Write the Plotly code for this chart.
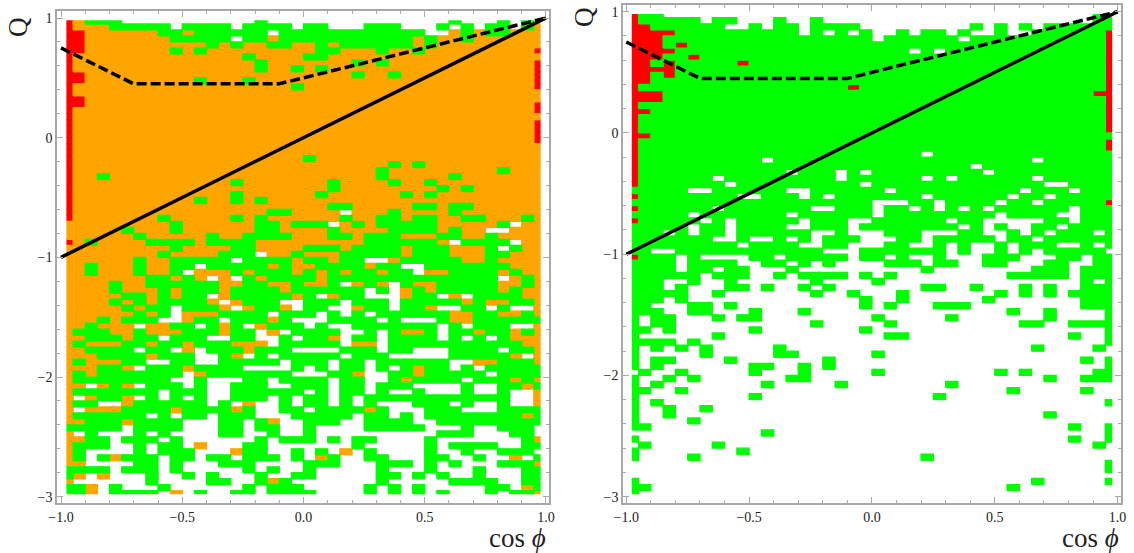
import numpy as np
import plotly.graph_objects as go

# Colour classes of each cell, row by row from the top: base class, then overrides as <class><first>-<last> column
LEFT_ROWS = [
"W R0 O1 G2-4 G16 G32 G36 G38",
"W R0 O1-3 G4-8 G10-13 G15-18 G20-21 G25-27 G31 G33 G35-36 G38 O39",
"O R0-1 G8-9 G11-16 W17 G18-29 W30-31 G33 G35-36",
"O R0-1 G9-13 W14 G15-16 G18-28 G30 G33",
"O R0-1 G12 G14 G17-18 G21 G23-28 G30",
"O R0-1 G9 G11 G21-22 G26 G29 R39",
"O R0 G15 G20-21",
"O R0 G16 G24 G26 R39",
"O R0 G16 G19 G21 R39",
"O R0-1 G24 G27 R39",
"O R0-1 G11 G15 R39",
"O R0 G19 R39",
"O R0",
"O R0-1",
"O R0-1 R39",
"O R0 R39",
"O R0",
"O R0 R39",
"O R0 R39",
"O R0 R39",
"O R0 R39",
"O R0",
"O R0",
"O R0 G20",
"O R0 G27 G29",
"O R0 G26 G36",
"O R0 G3 G26 G32",
"O R0 G14 G22 G27 G30",
"O R0 G22 G31 G33",
"O R0 G14 G21 G28 G30",
"O R0 G11 G14 G16",
"O R0 G22-23 G29-30 G32-33",
"O R0 G17-18 W23 G27 G32",
"O R0 G8 G14 G16 G23 G26-27 G29-30 G33-34 G38",
"O G9 G16-17 G19-21 W22 G24 G26-30 G36 W37",
"O G5 G9 G16-17 G22 G27-30 G32 W35-36",
"O G6 G12 G15-18 G22-23 G25-27 G31-32 G35",
"O R0 G2 G7-10 G12-15 G25-30 W32 G33-36 W37",
"O G9 G14-15 G20-22 G24-27 G29-31 G35 W36 G37",
"O G8 G13-15 W16 G19 G23-27 G29-31 G35-36",
"O G6 G9-13 W14 G15-18 G20-21 G23-24 W25-26 G28-32 G35",
"O G2 G6 G9-10 W11 G12-16 G18 O20 G21-24 O25 G26-27 W28-29 G30-36",
"G O0-1 O3-5 O7-8 W10 O11-13 O15 O19 O21 O23 O26 W29 O30-31 O36 O38-39",
"G O0-6 O9 O11 W12 O13 W14 O16 O21 W36 O37 O39",
"G O0-3 O5-6 O13-14 O17-18 O20-21 W23 O24 O26 W27 O29-30 O36-37 O39",
"G O0-3 O5-7 O9 O13 O18 W25 W27 O28 O30 O36 O38-39",
"G O0-4 O7 O9 W12 O13 O19 W21 O22 W25-27 O28 W31 O32 W33 O38-39",
"G O0-3 O5 O7 O12 W13 O14 W18-19 W23 W27 O33 O35-36 O39",
"G O0-4 O6 W9 O13 W14 O15 O18 W19 W22-23 O24 W27 O30 W31-32 W35 W37-38 O39",
"G O0-5 O7 W9 O10-12 W17 W21 W23 W25 O32-33 O36-37 O39",
"G O0-2 O4 W8-9 O10 W13 O17 W19-21 W26 W28-30 O32-33",
"G O0-1 O3-5 W6 O7-8 W11 O13 W15 O16 W20 W22-23 W31 W33 W37-38 O39",
"G O0 O4-5 O7-9 O13 W16 O17 W18 W23-24 W26 O28-29 W31 O34 O37 O39",
"G O0-1 O5 W8 W12-13 W16-17 W19 O22 W23 W26 W31 W33 W35 O37-39",
"G O0 O2-4 O7 O10 O14-16 W17 W23 O24-25 W26 O38-39",
"G O0-1 W6 W9 O10 W11 O15 W19-22 W26 W29-31 W36 O39",
"G O0-2 O7 W11-12 O14 W15 W17 W23 W27-31 O37 W38 O39",
"G O0 O2-4 W7-8 W11-12 W18 W22 W25 W32-33 O34-35 O39",
"G O0-2 O5 W6 O10 W15-18 W20 W22 W25 W27 O29 W32 W34",
"G O0 O2 W10 O11 W19-21 O24 W25-26 O29 W35",
"G O0 W9-10 W12-14 W17 W22 W25-26 O28 W33 O37 O39",
"G O0-1 W2 O3 O5 W6 W10 W12-13 W17-18 W22 W25 W29-32 W34-35 O38",
"G O0 W8 W12-13 W20 W22 W25 W27-28 W30-32 W34-35 W37-38 O39",
"G O0 W1 O2 O5 W6 W8 W10 W12-13 W17 W19 W22 W24 W37-38 O39",
"G O0 W3-4 O5 W12 W14 O15 W16-17 W19 W22 W24 W26-28 W32 W34-35 W37-38 O39",
"G O0 W1 O2-4 O9 O14 W16-17 W20 O25 W27-29 W33-35",
"G O0 W7 W9 W12 W16-18 W24 W27 W29 O38",
"G O0-1 O5 W10-12 W15 O17 W18-19 W23-24 W29-30",
"G W5 W10-12 W15 W18-19 W21-24 W30-32 W34-35 W39",
"G O0 W1 W3-5 W7 W9-12 W15-16 W18-19 W21-30 W34-36 W39",
"G O0-1 W4 W8 W10-15 W17 W21 W23 W26-29 W31-37 O39",
"W O0 G1-3 G6 G8-9 O11 G15-16 G24 G30 G32-35 G38-39",
"W O0 G1 G6 G8-10 O14 G15-16 G19 G21 O23 G25 G30 G33 G36-38",
"W O0 G1 G3 O4 G5-7 G9-10 G12-13 G15-17 G19 O21 G22 G25-26 G30-31 G34 O37 G39",
"W O0-1 G6-7 G9 G13-15 G20-22 G26-28 G30 G32 G36-38 O39",
"W G0-3 G5-7 G9 G15 G17 G20 G26 G30 G34 G38-39",
"W G0 O1 O3 G7 G10 G12 G16 G19-20 G26-27 G29 G31 G34 G38-39",
"W O0 G7 G12-13 G16 O17 G18 G26 G32-35 G38-39",
"W G0-1 O2 G4 G8 G15 G17-19 G25 G27 G29 G35-36 O38 G39",
"W G0-1 O2 G4-7 O9 G11 G14-15 G17-20 G25 G27 G29 G31 G35 G37-38 O39",
]

RIGHT_ROWS = [
"W R0 G1-2 G38",
"W R0 G1-5 G7-8 G12 G15 G38-39",
"G R0-1 W8-9 W11 W14 W19-27 W29 W31 W33",
"G R0-3 W14 W16 W18 W20-21 W23 W26 W28-29 W31-32 R39",
"G R0-2 W20 W27 R39",
"G R0-2 R4 R39",
"G R0-3 W23 W25 R39",
"G R0-2 R5 R39",
"G R0-1 R3 R9 R39",
"G R0-3 R39",
"G R0-1 R3 R39",
"G R0-1 R39",
"G R0 R18 R39",
"G R0-2 R38-39",
"G R0-2 R39",
"G R0 R39",
"G R0-1 R39",
"G R0 R39",
"G R0 R39",
"G R0 R39",
"G R0-1",
"G R0 R39",
"G R0 R39",
"G R0 W24",
"G R0 W11 W33",
"G R0 W28",
"G R0 W13 W17 W19 W29",
"G R0 W7 W17 W24 W26 W33",
"G R0 W8 W19 W34-35",
"G W5-6 W13-14 W21 W32 W36",
"G R0 W9-10 W14 W16 W24 W31 W34",
"G W20-22 W25 W30 W33 R39",
"G R0 W7 W15-16 W20 W23 W25 W27 W29 W36",
"G W5 W13 W20 W30 W35-36",
"G R0 W6 W8 W14 W18-19 W26 W29-33 W36",
"G W5 W8 W13-14 W18 W27 W29 W31-32 W35",
"G W3 W5 W8 W15-16 W18-20 W24-26 W29-30 W32 W34 W38",
"G W7-8 W10-11 W13 W15 W19-21 W24 W30 W33",
"G W9 W14-15 W18-20 W23-24 W26 W28-29 W31 W35-36 W38",
"G W2-3 W16-18 W26 W28-29 W31 W33 W39",
"G R0 W4 W6-9 W12 W18 W21 W23-24 W26-28 W32-34 W37",
"G W4 W9-10 W13 W15 W17-20 W24 W27-28 W31-33 W36-37",
"W G0-3 G5-6 G8-9 G13 G24 G33-35 G37-39",
"W G0-5 G7-9 G12 G14-17 G19 G21 G31-35 G37-39",
"W G0-2 G5 G8 G15 G20 G37 G39",
"W G0-2 G4 G8-9 G11 G14 G16 G24-25 G28 G32 G34 G37-39",
"W G0-4 G7 G15 G18 G22 G30 G32 G34 G36-39",
"W G0-2 G4 G19 G22 G29 G37-39",
"W G0-1 G5-6 G8 G19 G21 G25-27 G37-39",
"W G0-2 G5-6 G10 G14 G31 G34 G39",
"W G0 G2-3 G7 G9-10 G20 G26 G34 G39",
"W G0 G2-3 G15 G21 G32-33 G36-39",
"W G0-1 G3 G10 G19 G39",
"W G0 G7 G21-22 G36 G39",
"W G0-3 G5 G39",
"W G0 G2 G4 G6 G12 G33 G38",
"W G0 G6 G12-13 G20",
"W G0 G2-3 G8 G16 G37 G39",
"W G0 G2 G10-11 G14 G16 G39",
"W G1 G4 G10 G14 G20 G30 G32 G38-39",
"W G0 G3 G5 G13-14 G34 G37-39",
"W G0 G2 G11 G17 G26",
"W G0-1 G4 G31 G37",
"W G0 G10 G25",
"W G0 G2 G39",
"W G0 G3 G6",
"W G0 G3 G34",
"W G0 G5",
"W G0-1 G36 G39",
"W G11 G39",
"W G0 G36 G39",
"W G1 G7 G38",
"W G0 G9",
"W G0 G5 G24",
"W G39",
"W G39",
"W",
"W G0 G33 G39",
"W G0-1 G31",
"W G0",
]

COL_EDGES = [-0.975] + [round(-0.95 + 0.05 * i, 2) for i in range(39)] + [0.975]
ROW_EDGES = [0.975] + [round(0.95 - 0.05 * i, 2) for i in range(79)] + [-2.975]

COLOURS = {"O": "#ffa500", "G": "#00ff00", "R": "#ff0000"}
SOLID_X, SOLID_Q = [-1, 1], [-1, 1]
DASH_X, DASH_Q = [-1, -0.7, -0.1, 1], [0.75, 0.45, 0.45, 1]
X_TICKS = [-1, -0.5, 0, 0.5, 1]
X_LABELS = ["−1.0", "−0.5", "0.0", "0.5", "1.0"]
Y_TICKS = [1, 0, -1, -2, -3]
Y_LABELS = ["1", "0", "−1", "−2", "−3"]


def parse(rows):
    grid = []
    for row in rows:
        parts = row.split()
        cells = [parts[0]] * 40
        for t in parts[1:]:
            rng = t[1:].split("-")
            a, b = int(rng[0]), int(rng[-1])
            for c in range(a, b + 1):
                cells[c] = t[0]
        grid.append(cells)
    return grid


def polygons(grid, key):
    xs, ys = [], []
    for r, cells in enumerate(grid):
        c = 0
        while c < 40:
            if cells[c] == key:
                e = c
                while e + 1 < 40 and cells[e + 1] == key:
                    e += 1
                x0, x1 = COL_EDGES[c], COL_EDGES[e + 1]
                y0, y1 = ROW_EDGES[r + 1], ROW_EDGES[r]
                xs += [x0, x1, x1, x0, x0, None]
                ys += [y0, y0, y1, y1, y0, None]
                c = e + 1
            else:
                c += 1
    return xs, ys


W, H = 1134, 553
PANELS = [
    dict(rows=LEFT_ROWS, xa="x", ya="y", frame=(57, 549, 11, 503), xr=(-1.0165, 1.0124), yr=(-3.0526, 1.0585)),
    dict(rows=RIGHT_ROWS, xa="x2", ya="y2", frame=(623, 1121, 5, 503), xr=(-1.0134, 1.0138), yr=(-3.052, 1.0553)),
]

fig = go.Figure()
for p in PANELS:
    g = parse(p["rows"])
    for key in "ROG":
        xs, ys = polygons(g, key)
        if not xs:
            continue
        fig.add_trace(go.Scatter(x=xs, y=ys, xaxis=p["xa"], yaxis=p["ya"], mode="lines",
                                 fill="toself", fillcolor=COLOURS[key],
                                 line=dict(color=COLOURS[key], width=1.3), hoverinfo="skip"))
    fig.add_trace(go.Scatter(x=SOLID_X, y=SOLID_Q, xaxis=p["xa"], yaxis=p["ya"], mode="lines",
                             line=dict(color="#000000", width=3.5), hoverinfo="skip"))
    fig.add_trace(go.Scatter(x=DASH_X, y=DASH_Q, xaxis=p["xa"], yaxis=p["ya"], mode="lines",
                             line=dict(color="#000000", width=3.5, dash="10px,4px"), hoverinfo="skip"))

GREY = "#a8a8a8"
FONT = dict(family="Liberation Serif", size=14, color="#222222")


def axis_common(vals, labels, rng, minor, domain):
    return dict(range=list(rng), domain=domain, tickmode="array", tickvals=vals, ticktext=labels,
                automargin=False,
                ticks="inside", ticklen=6, tickwidth=1, tickcolor=GREY,
                minor=dict(tickmode="linear", tick0=0, dtick=minor, ticks="inside", ticklen=3,
                           tickwidth=1, tickcolor=GREY),
                showline=True, linecolor=GREY, linewidth=1.5, mirror="ticks", showgrid=False,
                zeroline=False, tickfont=FONT, fixedrange=True)


layout = dict(width=W, height=H, margin=dict(l=0, r=0, t=0, b=0), showlegend=False,
              paper_bgcolor="white", plot_bgcolor="white", hovermode=False)
for i, p in enumerate(PANELS):
    l, r, t, b = p["frame"]
    sfx = "" if i == 0 else "2"
    xax = axis_common(X_TICKS, X_LABELS, p["xr"], 0.1, [l / W, r / W])
    yax = axis_common(Y_TICKS, Y_LABELS, p["yr"], 0.2, [1 - b / H, 1 - t / H])
    xax["anchor"] = "y" + sfx
    yax["anchor"] = "x" + sfx
    layout["xaxis" + sfx] = xax
    layout["yaxis" + sfx] = yax
fig.update_layout(**layout)

TITLE = dict(family="Liberation Serif", size=27, color="#222222")
for cx, cy in [(18, 27), (584, 17)]:
    fig.add_annotation(x=cx / W, y=1 - cy / H, xref="paper", yref="paper", text="Q", textangle=-90,
                       showarrow=False, font=TITLE, xanchor="center", yanchor="middle")
for cx in (517, 1090):
    fig.add_annotation(x=cx / W, y=1 - 538 / H, xref="paper", yref="paper", text="cos <i>ϕ</i>",
                       showarrow=False, font=TITLE, xanchor="center", yanchor="middle")

fig.write_html("out.html", config={"displayModeBar": False},
               post_script="document.body.style.margin='0';")
